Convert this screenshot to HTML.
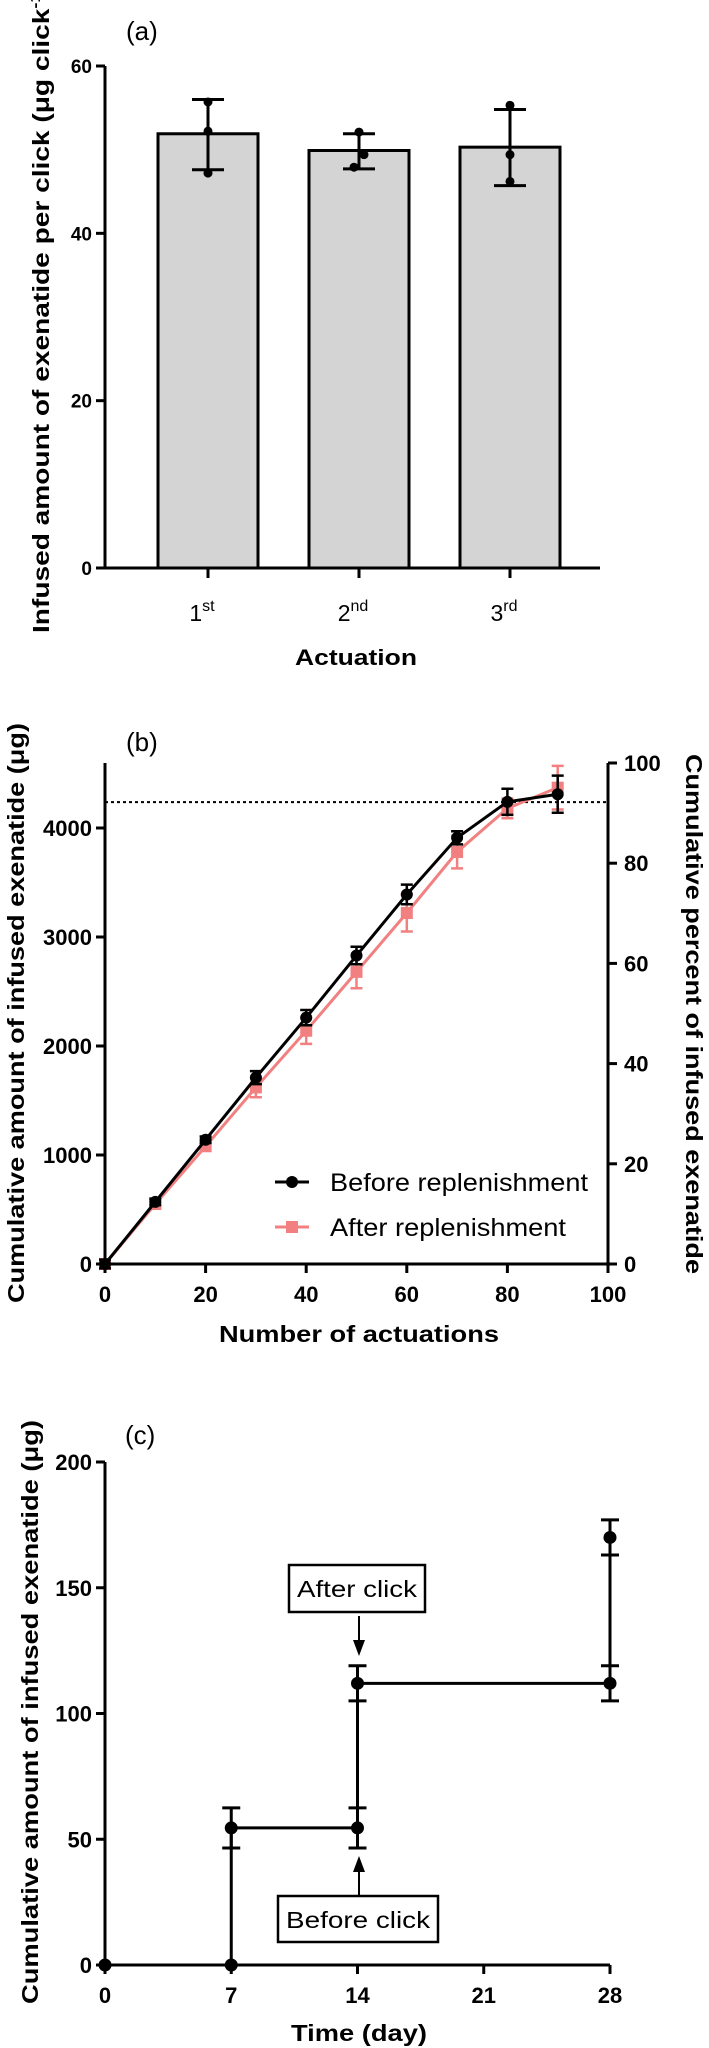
<!DOCTYPE html>
<html><head><meta charset="utf-8"><style>
html,body{margin:0;padding:0;background:#fff;}
svg{display:block;font-family:"Liberation Sans",sans-serif;}
</style></head><body>
<svg id="fig" width="709" height="2048" viewBox="0 0 709 2048" xmlns="http://www.w3.org/2000/svg"></svg>
<script>
// Panel (a) data
const aCategories = ["1", "2", "3"];
const aSup = ["st", "nd", "rd"];
const aMeans = [51.9, 49.9, 50.3];
const aErrHi = [56.0, 51.9, 54.8];
const aErrLo = [47.6, 47.7, 45.7];
const aPoints = [[55.7, 52.2, 47.2], [52.1, 49.4, 47.9], [55.3, 49.4, 46.2]];
const aTicks = [0, 20, 40, 60];
// Panel (b) data
const bX = [0, 10, 20, 30, 40, 50, 60, 70, 80, 90];
const bBefore = [0, 570, 1140, 1710, 2260, 2830, 3390, 3910, 4240, 4310];
const bBeforeErr = [40, 30, 30, 60, 70, 80, 90, 60, 120, 170];
const bAfter = [0, 550, 1080, 1620, 2140, 2680, 3220, 3780, 4180, 4370];
const bAfterErr = [40, 40, 40, 90, 120, 150, 170, 150, 90, 200];
const bXTicks = [0, 20, 40, 60, 80, 100];
const bYTicks = [0, 1000, 2000, 3000, 4000];
const bRTicks = [0, 20, 40, 60, 80, 100];
const bDotted = 4237;
// Panel (c) data
const cX = [0, 7, 7, 14, 14, 28, 28];
const cY = [0, 0, 54.5, 54.5, 112, 112, 170];
const cErr = [0, 0, 8, 8, 7, 7, 7];
const cXTicks = [0, 7, 14, 21, 28];
const cYTicks = [0, 50, 100, 150, 200];

const NS = "http://www.w3.org/2000/svg";
const svg = document.getElementById("fig");
function mk(tag, attrs, parent) {
  const e = document.createElementNS(NS, tag);
  for (const k in attrs) e.setAttribute(k, attrs[k]);
  (parent || svg).appendChild(e);
  return e;
}
function txt(s, attrs, parent) { const t = mk("text", attrs, parent); t.textContent = s; return t; }

// ---------- Panel A ----------
const ay = v => 568 - v * (568 - 66) / 60;
const aCx = i => 208 + i * 151;
const gA = mk("g", {});


let t = txt("(a)", {x: 126, y: 40, "font-size": 26}, gA);


aMeans.forEach((m, i) => {
  const r = mk("rect", {x: aCx(i) - 50, y: ay(m), width: 100, height: ay(0) - ay(m), fill: "#d4d4d4", stroke: "#000", "stroke-width": 3}, gA);
  
  
  const eb = mk("path", {d: `M${aCx(i)},${ay(aErrHi[i])}V${ay(aErrLo[i])}M${aCx(i)-16},${ay(aErrHi[i])}h32M${aCx(i)-16},${ay(aErrLo[i])}h32`, stroke: "#000", "stroke-width": 3, fill: "none"}, gA);
  
  
  aPoints[i].forEach((p, j) => {
    const c = mk("circle", {cx: aCx(i) + (i === 1 ? [0, 5, -5][j] : 0), cy: ay(p), r: 4.5, fill: "#000"}, gA);
    
    
  });
  const tk = mk("line", {x1: aCx(i), x2: aCx(i), y1: ay(0), y2: ay(0) + 10, stroke: "#000", "stroke-width": 3}, gA);
  
  
  const lab = txt("", {x: aCx(i) - 6, y: 621, "font-size": 23, "text-anchor": "middle"}, gA);
  
  
  const t1 = mk("tspan", {}, lab); t1.textContent = aCategories[i];
  const t2 = mk("tspan", {dy: -10, "font-size": 16}, lab); t2.textContent = aSup[i];
});
let axA = mk("path", {d: `M105,${ay(60)}V${ay(0)}H600`, stroke: "#000", "stroke-width": 3, fill: "none"}, gA);


aTicks.forEach(v => {
  const l = mk("line", {x1: 96, x2: 105, y1: ay(v), y2: ay(v), stroke: "#000", "stroke-width": 3}, gA);
  
  
  const tl = txt(String(v), {x: 92, y: ay(v) + 7, "font-size": 19, "font-weight": "bold", "text-anchor": "end"}, gA);
  
  
});
t = txt("Actuation", {x: 356, y: 665, "font-size": 22, "font-weight": "bold", "text-anchor": "middle", textLength: 122, lengthAdjust: "spacingAndGlyphs"}, gA);


t = txt("", {x: 0, y: 0, "font-size": 23, "font-weight": "bold", "text-anchor": "middle", transform: "translate(49,308) rotate(-90)", textLength: 650, lengthAdjust: "spacingAndGlyphs"}, gA);


{ const s1 = mk("tspan", {}, t); s1.textContent = "Infused amount of exenatide per click (μg click";
  const s2 = mk("tspan", {dy: -9, "font-size": 15}, t); s2.textContent = "-1";
  const s3 = mk("tspan", {dy: 9}, t); s3.textContent = ")"; }

// ---------- Panel B ----------
const bx = v => 105 + v * (608 - 105) / 100;
const by = v => 1264 - v * 0.1090;
const br = v => 1264 - v * (1264 - 763) / 100;
const gB = mk("g", {});


t = txt("(b)", {x: 126, y: 751, "font-size": 26}, gB);


let dl = mk("line", {x1: 105, x2: 608, y1: by(bDotted), y2: by(bDotted), stroke: "#000", "stroke-width": 2, "stroke-dasharray": "3,3"}, gB);


function series(vals, errs, color, shape, name) {
  const g = mk("g", {}, gB);
  
  
  const p = mk("polyline", {points: bX.map((x, i) => `${bx(x)},${by(vals[i])}`).join(" "), fill: "none", stroke: color, "stroke-width": 3}, g);
  
  
  bX.forEach((x, i) => {
    const X = bx(x);
    const e = mk("path", {d: `M${X},${by(vals[i] + errs[i])}V${by(vals[i] - errs[i])}M${X-6},${by(vals[i] + errs[i])}h12M${X-6},${by(vals[i] - errs[i])}h12`, stroke: color, "stroke-width": 2.5, fill: "none"}, g);
    
    
    const m = shape === "c" ? mk("circle", {cx: X, cy: by(vals[i]), r: 6, fill: color}, g)
                            : mk("rect", {x: X - 6, y: by(vals[i]) - 6, width: 12, height: 12, fill: color}, g);
    
    
  });
}
series(bAfter, bAfterErr, "#f28080", "s", "after-replenishment");
series(bBefore, bBeforeErr, "#000", "c", "before-replenishment");
let axB = mk("path", {d: `M105,763V1264H608V763`, stroke: "#000", "stroke-width": 3, fill: "none"}, gB);


bXTicks.forEach(v => {
  const l = mk("line", {x1: bx(v), x2: bx(v), y1: 1264, y2: 1273, stroke: "#000", "stroke-width": 3}, gB);
  
  
  const tl = txt(String(v), {x: bx(v), y: 1302, "font-size": 22, "font-weight": "bold", "text-anchor": "middle"}, gB);
  
  
});
bYTicks.forEach(v => {
  const l = mk("line", {x1: 96, x2: 105, y1: by(v), y2: by(v), stroke: "#000", "stroke-width": 3}, gB);
  
  
  const tl = txt(String(v), {x: 92, y: by(v) + 8, "font-size": 22, "font-weight": "bold", "text-anchor": "end"}, gB);
  
  
});
bRTicks.forEach(v => {
  const l = mk("line", {x1: 608, x2: 617, y1: br(v), y2: br(v), stroke: "#000", "stroke-width": 3}, gB);
  
  
  const tl = txt(String(v), {x: 624, y: br(v) + 8, "font-size": 22, "font-weight": "bold"}, gB);
  
  
});
t = txt("Number of actuations", {x: 359, y: 1342, "font-size": 23, "font-weight": "bold", "text-anchor": "middle", textLength: 280, lengthAdjust: "spacingAndGlyphs"}, gB);


t = txt("Cumulative amount of infused exenatide (μg)", {x: 0, y: 0, "font-size": 23, "font-weight": "bold", "text-anchor": "middle", transform: "translate(24,1013) rotate(-90)", textLength: 580, lengthAdjust: "spacingAndGlyphs"}, gB);


t = txt("Cumulative percent of infused exenatide", {x: 0, y: 0, "font-size": 23, "font-weight": "bold", "text-anchor": "middle", transform: "translate(686,1014) rotate(90)", textLength: 520, lengthAdjust: "spacingAndGlyphs"}, gB);


// legend
const lg = mk("g", {}, gB);


[["Before replenishment", "#000", "c", 1182], ["After replenishment", "#f28080", "s", 1227]].forEach(([lab, col, sh, y]) => {
  const e = mk("g", {}, lg);
  
  
  mk("line", {x1: 275, x2: 309, y1: y, y2: y, stroke: col, "stroke-width": 3}, e);
  if (sh === "c") mk("circle", {cx: 292, cy: y, r: 6, fill: col}, e);
  else mk("rect", {x: 286, y: y - 6, width: 12, height: 12, fill: col}, e);
  txt(lab, {x: 330, y: y + 9, "font-size": 25, textLength: lab.length > 19 ? 258 : 236, lengthAdjust: "spacingAndGlyphs"}, e);
});

// ---------- Panel C ----------
const cx = v => 105 + v * (610 - 105) / 28;
const cy = v => 1965 - v * (1965 - 1462) / 200;
const gC = mk("g", {});


t = txt("(c)", {x: 125, y: 1444, "font-size": 26}, gC);


let axC = mk("path", {d: `M105,1462V1965H610`, stroke: "#000", "stroke-width": 3, fill: "none"}, gC);


let stepLine = mk("polyline", {points: cX.map((x, i) => `${cx(x)},${cy(cY[i])}`).join(" "), fill: "none", stroke: "#000", "stroke-width": 3}, gC);


cX.forEach((x, i) => {
  const X = cx(x), Y = cy(cY[i]);
  if (cErr[i] > 0) {
    const e = mk("path", {d: `M${X},${cy(cY[i] + cErr[i])}V${cy(cY[i] - cErr[i])}M${X-9},${cy(cY[i] + cErr[i])}h18M${X-9},${cy(cY[i] - cErr[i])}h18`, stroke: "#000", "stroke-width": 3, fill: "none"}, gC);
    
    
  }
  const m = mk("circle", {cx: X, cy: Y, r: 6.5, fill: "#000"}, gC);
  
  
});
cXTicks.forEach(v => {
  const l = mk("line", {x1: cx(v), x2: cx(v), y1: 1965, y2: 1974, stroke: "#000", "stroke-width": 3}, gC);
  
  
  const tl = txt(String(v), {x: cx(v), y: 2003, "font-size": 22, "font-weight": "bold", "text-anchor": "middle"}, gC);
  
  
});
cYTicks.forEach(v => {
  const l = mk("line", {x1: 96, x2: 105, y1: cy(v), y2: cy(v), stroke: "#000", "stroke-width": 3}, gC);
  
  
  const tl = txt(String(v), {x: 92, y: cy(v) + 8, "font-size": 22, "font-weight": "bold", "text-anchor": "end"}, gC);
  
  
});
t = txt("Time (day)", {x: 359, y: 2041, "font-size": 23, "font-weight": "bold", "text-anchor": "middle", textLength: 136, lengthAdjust: "spacingAndGlyphs"}, gC);


t = txt("Cumulative amount of  infused exenatide (μg)", {x: 0, y: 0, "font-size": 23, "font-weight": "bold", "text-anchor": "middle", transform: "translate(38,1712) rotate(-90)", textLength: 584, lengthAdjust: "spacingAndGlyphs", "xml:space": "preserve"}, gC);


// annotations
const an1 = mk("g", {}, gC);


mk("rect", {x: 289, y: 1565, width: 136, height: 47, fill: "#fff", stroke: "#000", "stroke-width": 2.5}, an1);
txt("After click", {x: 357, y: 1597, "font-size": 23, "text-anchor": "middle", textLength: 120, lengthAdjust: "spacingAndGlyphs"}, an1);
mk("path", {d: "M359,1616V1646", stroke: "#000", "stroke-width": 2}, an1);
mk("path", {d: "M353,1640L359,1656L365,1640Z", fill: "#000"}, an1);
const an2 = mk("g", {}, gC);


mk("rect", {x: 278, y: 1896, width: 160, height: 46, fill: "#fff", stroke: "#000", "stroke-width": 2.5}, an2);
txt("Before click", {x: 358, y: 1928, "font-size": 23, "text-anchor": "middle", textLength: 144, lengthAdjust: "spacingAndGlyphs"}, an2);
mk("path", {d: "M359,1895V1866", stroke: "#000", "stroke-width": 2}, an2);
mk("path", {d: "M353,1872L359,1856L365,1872Z", fill: "#000"}, an2);
</script>
</body></html>
